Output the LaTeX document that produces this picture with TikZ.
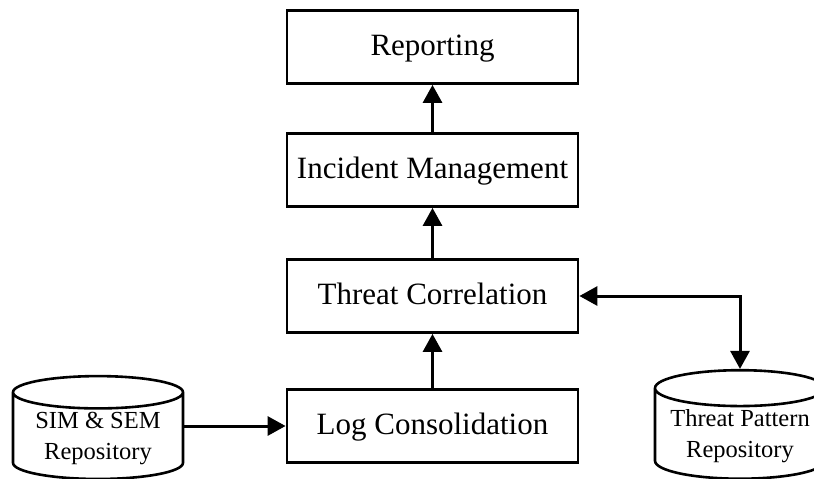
\documentclass[tikz,border=0pt]{standalone}
\usepackage{fontspec}
\setmainfont{Liberation Serif}
\usetikzlibrary{shapes.geometric,arrows.meta}

\begin{document}
\begin{tikzpicture}[x=0.5pt,y=-0.5pt,
    stage/.style={draw,line width=1.4pt,minimum width=145.5pt,minimum height=36.5pt,
      text depth=0.45ex,font=\fontsize{15.5}{18}\selectfont},
    repo/.style={draw,line width=1.3pt,shape=cylinder,shape border rotate=90,aspect=0.25,
      minimum width=85pt,minimum height=48pt,align=center,inner sep=1pt,
      font=\fontsize{12.25}{15.5}\selectfont},
    flow/.style={line width=1.5pt,-{Triangle[length=9pt,width=9.5pt]}},
    both/.style={line width=1.5pt,{Triangle[length=9pt,width=9.5pt]}-{Triangle[length=9pt,width=9.5pt]}}]
    \useasboundingbox (0,0) rectangle (814,478);
    \node[stage] (report) at (432.5,47) {Reporting};
    \node[stage] (incident) at (432.5,170) {Incident Management};
    \node[stage] (correl) at (432.5,296) {Threat Correlation};
    \node[stage] (logcons) at (432.5,426) {Log Consolidation};
    \node[repo] (simsem) at (98,438) {SIM \& SEM\\Repository};
    \node[repo] (pattern) at (740,436) {Threat Pattern\\Repository};
    \draw[flow] (logcons) -- (correl);
    \draw[flow] (correl) -- (incident);
    \draw[flow] (incident) -- (report);
    \draw[flow] (simsem.east |- logcons.west) -- (logcons.west);
    \draw[both] (correl.east) -| (pattern.north);
  \end{tikzpicture}
\end{document}
